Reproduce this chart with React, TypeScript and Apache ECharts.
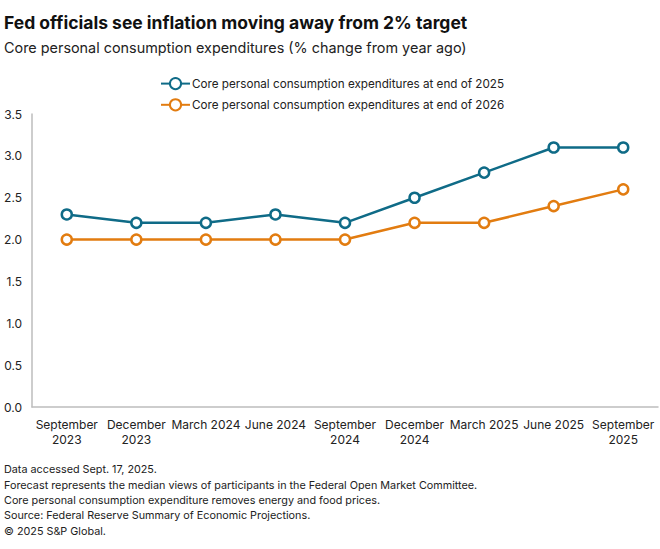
import React, { useEffect, useRef } from "react";
import * as echarts from "echarts";

const categories = [
  "September\n2023",
  "December\n2023",
  "March 2024",
  "June 2024",
  "September\n2024",
  "December\n2024",
  "March 2025",
  "June 2025",
  "September\n2025",
];
const series2025 = [2.3, 2.2, 2.2, 2.3, 2.2, 2.5, 2.8, 3.1, 3.1];
const series2026 = [2.0, 2.0, 2.0, 2.0, 2.0, 2.2, 2.2, 2.4, 2.6];
const seriesNames = [
  "Core personal consumption expenditures at end of 2025",
  "Core personal consumption expenditures at end of 2026",
];
const titleText = "Fed officials see inflation moving away from 2% target";
const subtitleText = "Core personal consumption expenditures (% change from year ago)";
const footnotes = [
  "Data accessed Sept. 17, 2025.",
  "Forecast represents the median views of participants in the Federal Open Market Committee.",
  "Core personal consumption expenditure removes energy and food prices.",
  "Source: Federal Reserve Summary of Economic Projections.",
  "\u00a9 2025 S&P Global.",
];

const FONT = "Inter, Roboto, sans-serif";
const BLUE = "#0f6b87";
const ORANGE = "#e27c10";

export default function App() {
  const ref = useRef<HTMLDivElement>(null);
  useEffect(() => {
    if (!ref.current) return;
    const chart = echarts.init(ref.current, undefined, { renderer: "svg" });
    const mkSeries = (name: string, data: number[], color: string) => ({
      name,
      type: "line",
      data,
      symbol: "circle",
      symbolSize: 10,
      showSymbol: true,
      lineStyle: { color, width: 2.5 },
      itemStyle: { color: "#ffffff", borderColor: color, borderWidth: 2.5 },
      emphasis: { disabled: true },
    });
    chart.setOption({
      animation: false,
      textStyle: { fontFamily: FONT },
      graphic: [
        {
          type: "text",
          left: 4,
          top: 13,
          style: { text: titleText, font: `bold 17.5px ${FONT}`, fill: "#111" },
        },
        {
          type: "text",
          left: 4,
          top: 40,
          style: { text: subtitleText, font: `14.4px ${FONT}`, fill: "#222" },
        },
        {
          type: "text",
          left: 4,
          top: 462,
          style: {
            text: footnotes.join("\n"),
            font: `10.8px ${FONT}`,
            lineHeight: 15.4,
            fill: "#222",
          },
        },
      ],
      legend: {
        orient: "vertical",
        left: 155,
        top: 72,
        itemGap: 8,
        itemWidth: 29,
        itemHeight: 14,
        textStyle: { fontFamily: FONT, fontSize: 11.7, color: "#222", padding: [0, 0, 0, -3] },
        data: seriesNames.map((n) => ({ name: n })),
      },
      grid: { left: 32, right: 2, top: 114, bottom: 142, containLabel: false },
      xAxis: {
        type: "category",
        data: categories,
        boundaryGap: true,
        axisLine: { show: true, lineStyle: { color: "#bdbdbd", width: 1.5 } },
        axisTick: { show: false },
        axisLabel: {
          interval: 0,
          color: "#222",
          fontSize: 12,
          fontFamily: FONT,
          lineHeight: 15,
          margin: 10,
        },
      },
      yAxis: {
        type: "value",
        min: 0,
        max: 3.5,
        interval: 0.5,
        splitLine: { show: false },
        axisLine: { show: true, lineStyle: { color: "#bdbdbd", width: 1.5 } },
        axisTick: { show: false },
        axisLabel: {
          color: "#222",
          fontSize: 12,
          fontFamily: FONT,
          margin: 10,
          formatter: (v: number) => v.toFixed(1),
        },
      },
      series: [
        mkSeries(seriesNames[0], series2025, BLUE),
        mkSeries(seriesNames[1], series2026, ORANGE),
      ],
    });
    return () => chart.dispose();
  }, []);
  return (
    <div
      ref={ref}
      style={{ position: "absolute", left: 0, top: 0, width: 660, height: 549 }}
    />
  );
}
